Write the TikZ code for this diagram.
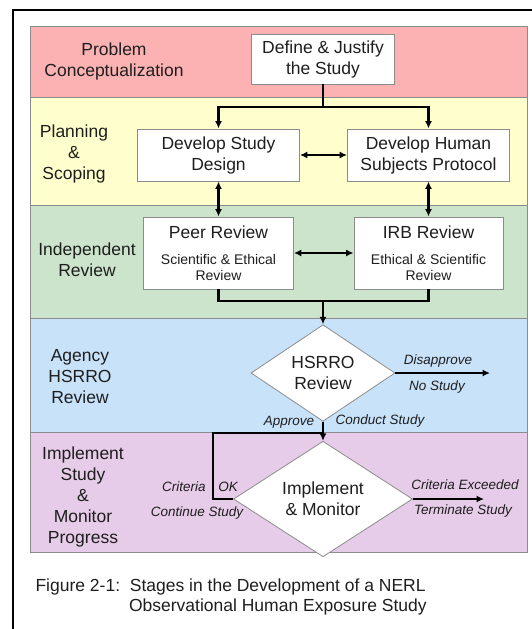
\documentclass[tikz,border=0pt]{standalone}
\usepackage{fontspec}
\setmainfont{Liberation Sans}
\usetikzlibrary{shapes.geometric,arrows.meta}
\definecolor{bandred}{RGB}{252,178,178}
\definecolor{bandyellow}{RGB}{255,255,206}
\definecolor{bandgreen}{RGB}{204,228,204}
\definecolor{bandblue}{RGB}{200,226,250}
\definecolor{bandpurple}{RGB}{230,204,232}
\definecolor{rim}{RGB}{140,140,140}
\definecolor{ink}{RGB}{30,30,30}
\newcommand\stagefont{\fontsize{17.5}{21}\selectfont}
\newcommand\smallfont{\fontsize{13.5}{16}\selectfont}
\newcommand\notefont{\fontsize{14}{16}\selectfont}

\begin{document}
\begin{tikzpicture}[x=1pt,y=-1pt,
    font=\stagefont, text=ink,
    stage/.style={fill=#1, draw=rim, line width=1pt},
    stagelabel/.style={align=center},
    task/.style={draw=rim, fill=white, line width=0.8pt, align=center,
      inner sep=0pt, minimum width=#1, minimum height=52pt},
    decision/.style={diamond, draw=rim, fill=white, line width=0.8pt,
      align=center, inner sep=0pt},
    link/.style={line width=2.2pt},
    flow/.style={link, -{Latex[length=7.5pt,width=7pt]}},
    twoway/.style={link, {Latex[length=7.5pt,width=7pt]}-{Latex[length=7.5pt,width=7pt]}},
    tag/.style={font=\itshape\smallfont}]
    \useasboundingbox (0,0) rectangle (532,629);
    \draw[line width=2pt] (12.5,629) -- (12.5,10) -- (532,10);

    \draw[stage=bandred] (30.5,26) rectangle (527,97);
    \draw[stage=bandyellow] (30.5,97) rectangle (527,205);
    \draw[stage=bandgreen] (30.5,205) rectangle (527,318);
    \draw[stage=bandblue] (30.5,318) rectangle (527,432);
    \draw[stage=bandpurple] (30.5,432) rectangle (527,552);

    \node[stagelabel] (conceptual) at (114,61) {Problem\\Conceptualization};
    \node[stagelabel] (planning) at (74,154) {Planning\\\&\\Scoping};
    \node[stagelabel] (independent) at (87,259.5) {Independent\\Review};
    \node[stagelabel] (agency) at (80,377) {Agency\\HSRRO\\Review};
    \node[stagelabel] (implement) at (83,497) {Implement\\Study\\\&\\Monitor\\Progress};

    \node[task=143pt, minimum height=50pt] (define) at (323,59) {Define \& Justify\\the Study};
    \node[task=162pt] (design) at (218.5,155) {Develop Study\\Design};
    \node[task=162pt] (protocol) at (428.5,155) {Develop Human\\Subjects Protocol};
    \node[task=150pt, minimum height=72pt] (peer) at (218.5,253)
      {Peer Review\\[5pt]\notefont Scientific \& Ethical\\[-5pt]\notefont Review};
    \node[task=149pt, minimum height=72pt] (irb) at (428.5,253)
      {IRB Review\\[5pt]\notefont Ethical \& Scientific\\[-5pt]\notefont Review};
    \node[decision, minimum width=144pt, minimum height=92pt] (hsrro) at (323,373) {HSRRO\\Review};
    \node[decision, minimum width=179pt, minimum height=96pt] (monitor) at (323,499) {Implement\\\& Monitor};

    \coordinate (split) at (323,107);
    \coordinate (merge) at (323,301);
    \coordinate (reject) at (490,373);
    \coordinate (recheck) at (213,433);
    \coordinate (rejoin) at (323,433);
    \coordinate (stop) at (484,499);

    \draw[link] (define.south) -- (split);
    \draw[flow] (split) -| (design.north);
    \draw[flow] (split) -| (protocol.north);
    \draw[twoway] (design) -- (protocol);
    \draw[twoway] (design.south) -- (peer.north);
    \draw[twoway] (protocol.south) -- (irb.north);
    \draw[twoway] (peer) -- (irb);
    \draw[link] (peer.south) |- (merge);
    \draw[link] (irb.south) |- (merge);
    \draw[flow] (merge) -- (hsrro.north);
    \draw[flow] (hsrro.east) -- (reject);
    \draw[flow] (hsrro.south) -- (monitor.north);
    \draw[link] (monitor.west) -| (recheck) -- (rejoin);
    \draw[flow] (monitor.east) -- (stop);

    \node[tag] (disapprove) at (438,361) {Disapprove};
    \node[tag] (nostudy) at (437,387) {No Study};
    \node[tag] (approve) at (289,422) {Approve};
    \node[tag] (conduct) at (380,421) {Conduct Study};
    \node[tag] (criteria) at (184,487) {Criteria};
    \node[tag] (ok) at (228,487) {OK};
    \node[tag] (continue) at (197,513) {Continue Study};
    \node[tag] (exceeded) at (465,485) {Criteria Exceeded};
    \node[tag] (terminate) at (463,511) {Terminate Study};

    \node[anchor=west] (caption) at (32,587) {Figure 2-1:\ \ Stages in the Development of a NERL};
    \node[anchor=west] (caption2) at (125.5,607) {Observational Human Exposure Study};
\end{tikzpicture}
\end{document}
